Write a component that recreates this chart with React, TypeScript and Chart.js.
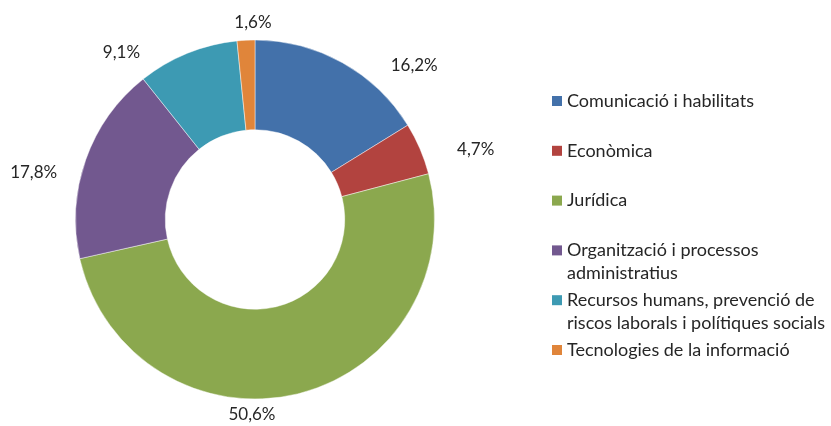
import { useEffect, useRef } from "react";
import { Chart, registerables } from "chart.js";

Chart.register(...registerables);

const categories = [
  "Comunicació i habilitats",
  "Econòmica",
  "Jurídica",
  "Organització i processos administratius",
  "Recursos humans, prevenció de riscos laborals i polítiques socials",
  "Tecnologies de la informació",
];
const shares = [16.2, 4.7, 50.6, 17.8, 9.1, 1.6];
const colors = ["#4371AA", "#B2433F", "#8BA84E", "#72588F", "#3D9AB3", "#E0853A"];

// label placement (polar: degrees clockwise from top, distance as fraction of outer radius)
const labelPlacement = [
  { angle: 46, dist: 1.233 },
  { angle: 72.5, dist: 1.289 },
  { angle: 180.9, dist: 1.086 },
  { angle: 282.1, dist: 1.261 },
  { angle: 321.3, dist: 1.19 },
  { angle: 359.4, dist: 1.097 },
];

const FONT = "Lato, 'Open Sans', sans-serif";
const TEXT_COLOR = "#262626";

const fmt = (v: number) => v.toFixed(1).replace(".", ",") + "%";

function wrap(ctx: CanvasRenderingContext2D, text: string, maxWidth: number): string[] {
  const words = text.split(" ");
  const lines: string[] = [];
  let cur = "";
  for (const w of words) {
    const test = cur ? cur + " " + w : w;
    if (ctx.measureText(test).width > maxWidth && cur) {
      lines.push(cur);
      cur = w;
    } else {
      cur = test;
    }
  }
  if (cur) lines.push(cur);
  return lines;
}

const labelsPlugin = {
  id: "sliceLabels",
  afterDatasetsDraw(chart: any) {
    const meta = chart.getDatasetMeta(0);
    const first = meta.data[0];
    if (!first) return;
    const cx = first.x;
    const cy = first.y;
    const R = first.outerRadius;
    const ctx = chart.ctx as CanvasRenderingContext2D;
    ctx.save();
    ctx.font = `17px ${FONT}`;
    ctx.fillStyle = TEXT_COLOR;
    ctx.textAlign = "center";
    ctx.textBaseline = "middle";
    const ds = chart.data.datasets[0].data as number[];
    ds.forEach((v, i) => {
      const p = labelPlacement[i];
      const a = ((p.angle - 90) * Math.PI) / 180;
      ctx.fillText(fmt(v), cx + Math.cos(a) * R * p.dist, cy + Math.sin(a) * R * p.dist);
    });
    ctx.restore();
  },
};

const legendPlugin = {
  id: "wrapLegend",
  afterDraw(chart: any) {
    const ctx = chart.ctx as CanvasRenderingContext2D;
    const left = 552;
    const top = 101;
    const pitch = 49.8;
    const lineHeight = 23;
    const box = 10;
    const textX = left + 15;
    const maxWidth = 264;
    ctx.save();
    ctx.font = `18px ${FONT}`;
    ctx.textBaseline = "middle";
    ctx.textAlign = "left";
    (chart.data.labels as string[]).forEach((label, i) => {
      const y = top + i * pitch;
      ctx.fillStyle = colors[i];
      ctx.fillRect(left, y - box / 2, box, box);
      ctx.fillStyle = TEXT_COLOR;
      const lines = wrap(ctx, label, maxWidth);
      lines.forEach((ln, j) => ctx.fillText(ln, textX, y + j * lineHeight));
    });
    ctx.restore();
  },
};

export default function App() {
  const ref = useRef<HTMLCanvasElement | null>(null);
  useEffect(() => {
    if (!ref.current) return;
    const chart = new Chart(ref.current, {
      type: "doughnut",
      data: {
        labels: categories,
        datasets: [
          {
            data: shares,
            backgroundColor: colors,
            borderColor: "rgba(255,255,255,0.45)",
            borderWidth: 1,
            hoverOffset: 0,
          },
        ],
      },
      options: {
        animation: false,
        responsive: true,
        maintainAspectRatio: false,
        cutout: "50%",
        rotation: 0,
        layout: { padding: { left: 75, right: 396, top: 39, bottom: 26 } },
        plugins: { legend: { display: false }, tooltip: { enabled: false } },
      },
      plugins: [labelsPlugin, legendPlugin],
    });
    return () => chart.destroy();
  }, []);
  return (
    <div style={{ position: "absolute", left: 0, top: 0, width: 831, height: 426, background: "#fff" }}>
      <canvas ref={ref} />
    </div>
  );
}
